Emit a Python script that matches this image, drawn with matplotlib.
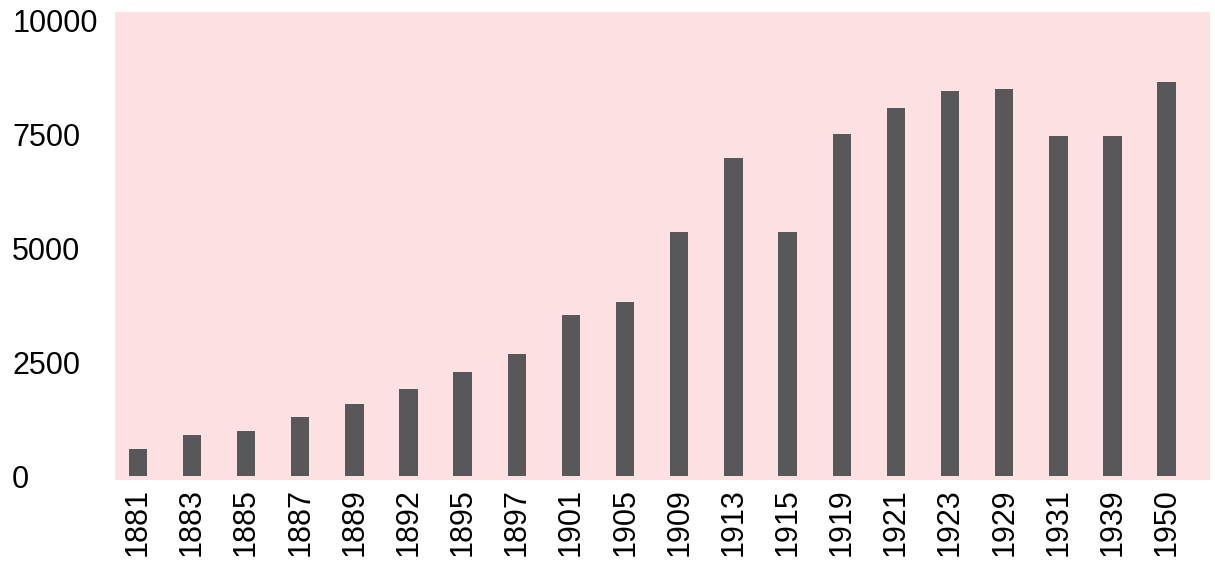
import numpy as np
import matplotlib.pyplot as plt

years = ['1881', '1883', '1885', '1887', '1889', '1892', '1895', '1897', '1901', '1905',
         '1909', '1913', '1915', '1919', '1921', '1923', '1929', '1931', '1939', '1950']
values = [590, 910, 1000, 1310, 1580, 1910, 2290, 2680, 3540, 3820,
          5360, 6990, 5360, 7510, 8070, 8440, 8500, 7470, 7470, 8640]
yticks = [0, 2500, 5000, 7500, 10000]

plt.rcParams['font.family'] = ['Liberation Sans', 'DejaVu Sans']

fig = plt.figure(figsize=(12.15, 5.63), dpi=100)
ax = fig.add_axes([115 / 1215, 1 - 480 / 563, 1095 / 1215, 468 / 563])
ax.set_facecolor('#fce0e2')

x = np.arange(len(years))
ax.bar(x, values, width=0.34, color='#58585a')

ax.set_xlim(-0.42, 19.8)
ax.set_ylim(-80, 10180)
ax.set_xticks(x)
ax.set_xticklabels(years, rotation=90, fontsize=22)
ax.set_yticks(yticks)
ax.set_yticklabels([str(v) for v in yticks], fontsize=22, ha='left')
ax.tick_params(axis='both', length=0)
ax.tick_params(axis='y', pad=74)
ax.tick_params(axis='x', pad=6)
for s in ax.spines.values():
    s.set_visible(False)

fig.savefig('out.png', dpi=100, facecolor='white')
